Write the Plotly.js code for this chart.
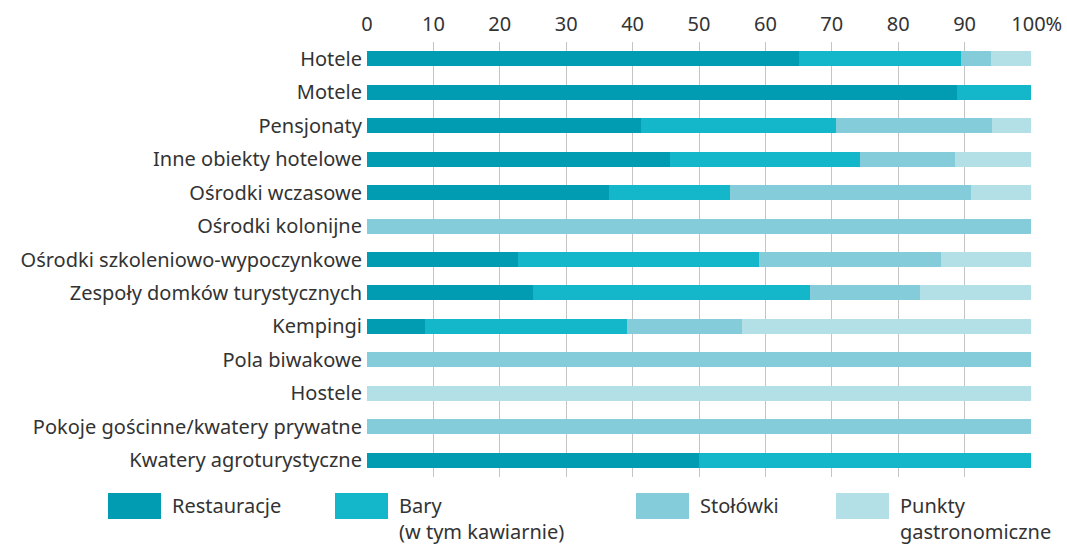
<!DOCTYPE html>
<html>
<head>
<meta charset="utf-8">
<script src="https://cdn.plot.ly/plotly-3.0.1.min.js"></script>
<style>html,body{margin:0;padding:0;background:#fff;}#chart{width:1067px;height:544px;}</style>
</head>
<body>
<div id="chart"></div>
<script>
const categories = ["Hotele","Motele","Pensjonaty","Inne obiekty hotelowe","Ośrodki wczasowe","Ośrodki kolonijne","Ośrodki szkoleniowo-wypoczynkowe","Zespoły domków turystycznych","Kempingi","Pola biwakowe","Hostele","Pokoje gościnne/kwatery prywatne","Kwatery agroturystyczne"];
const restauracje = [65.1, 88.9, 41.2, 45.7, 36.4, 0, 22.7, 25.0, 8.7, 0, 0, 0, 50.0];
const bary        = [24.4, 11.1, 29.4, 28.6, 18.2, 0, 36.4, 41.7, 30.4, 0, 0, 0, 50.0];
const stolowki    = [4.4, 0, 23.5, 14.3, 36.4, 100, 27.3, 16.6, 17.4, 100, 0, 100, 0];
const punkty      = [6.1, 0, 5.9, 11.4, 9.0, 0, 13.6, 16.7, 43.5, 0, 100, 0, 0];
const seriesNames = ["Restauracje", "Bary<br>(w tym kawiarnie)", "Stołówki", "Punkty<br>gastronomiczne"];
const tickVals = [0,10,20,30,40,50,60,70,80,90,100];
const tickText = ["0","10","20","30","40","50","60","70","80","90","\u2007100%"];

const colors = ["#019bb2", "#14b6c9", "#84ccd9", "#b3dfe6"];
const seriesVals = [restauracje, bary, stolowki, punkty];

const traces = seriesVals.map((vals, i) => ({
  type: "bar",
  orientation: "h",
  y: categories,
  x: vals,
  name: seriesNames[i],
  marker: {color: colors[i], line: {width: 0}},
  showlegend: false,
  hoverinfo: "skip"
}));

const font = {family: "Noto Sans, sans-serif", size: 20, color: "#333333"};

// custom legend
const legendX = [108, 335, 636, 836];
const shapes = [];
const annotations = [];
legendX.forEach((lx, i) => {
  shapes.push({type: "rect", xref: "paper", yref: "paper",
    x0: (lx - 367) / 664, x1: (lx + 53 - 367) / 664,
    y0: (477 - 519) / 435, y1: (477 - 493) / 435,
    fillcolor: colors[i], line: {width: 0}});
  annotations.push({xref: "paper", yref: "paper",
    x: (lx + 62 - 367) / 664, y: (477 - 490) / 435,
    xanchor: "left", yanchor: "top", align: "left",
    text: seriesNames[i], showarrow: false, font: font});
});

const layout = {
  width: 1067, height: 544,
  margin: {l: 367, r: 36, t: 42, b: 67},
  paper_bgcolor: "#ffffff", plot_bgcolor: "#ffffff",
  barmode: "stack",
  bargap: 0.55,
  font: font,
  xaxis: {
    side: "top", range: [0, 100], tickvals: tickVals, ticktext: tickText,
    showgrid: true, gridcolor: "#c4c4c4", gridwidth: 1, zeroline: false,
    showline: false, ticks: "", fixedrange: true, tickfont: font,
    ticklabelstandoff: 6
  },
  yaxis: {
    autorange: false, range: [12.5, -0.5], type: "category",
    showgrid: false, zeroline: false, showline: false, ticks: "",
    tickfont: font, ticklabelstandoff: 4
  },
  shapes: shapes,
  annotations: annotations
};

Plotly.newPlot("chart", traces, layout, {displayModeBar: false, staticPlot: true});
</script>
</body>
</html>
